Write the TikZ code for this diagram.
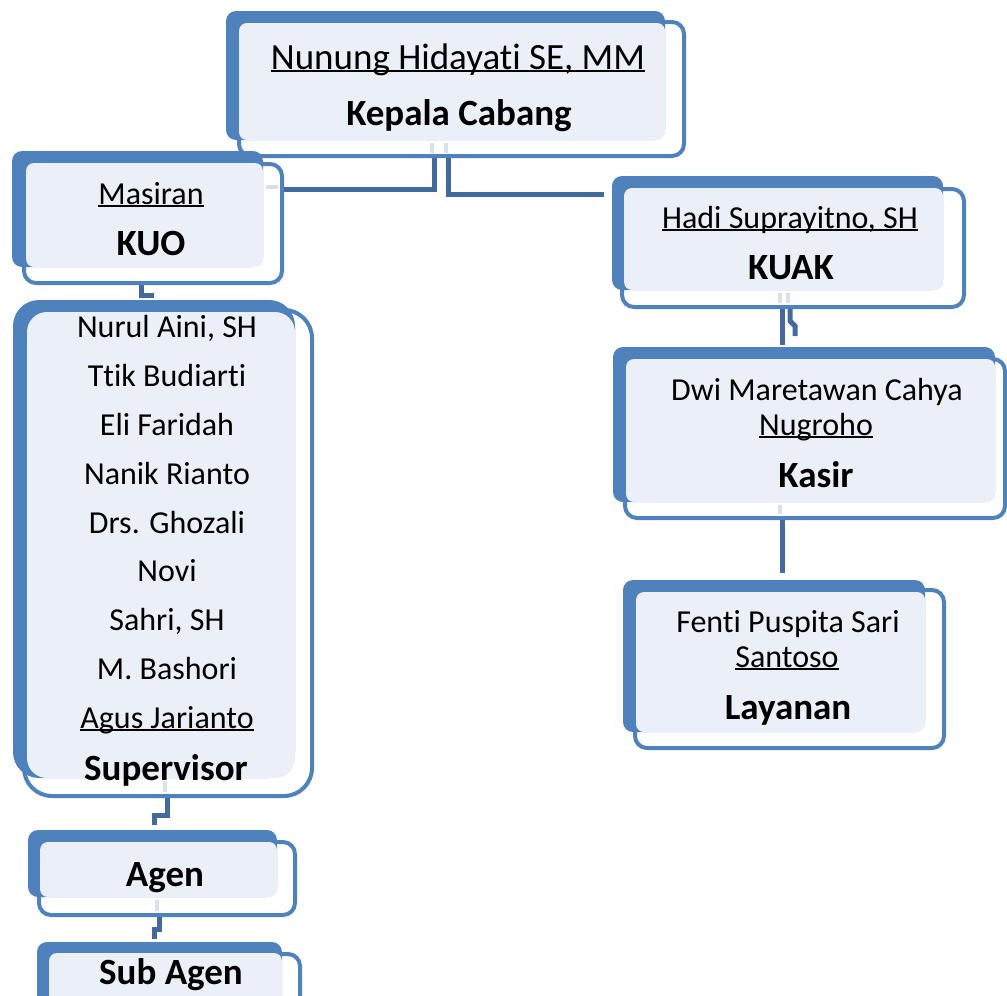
\documentclass[tikz,border=0pt]{standalone}
\usepackage{fontspec}
\setmainfont{Carlito}[RawFeature={-liga,-clig}]
\definecolor{boxblue}{HTML}{4F81BD}
\definecolor{lightfill}{HTML}{EBF0F8}
\definecolor{connblue}{HTML}{44699C}
\definecolor{ghost}{HTML}{D8E1EC}
\newcommand\ulname[1]{\setbox0\hbox{#1}\rlap{\rule[-0.09em]{\wd0}{0.055em}}\box0}
\begin{document}
\begin{tikzpicture}[x=1pt,y=-1pt,
  back/.style={fill=boxblue, rounded corners=10pt},
  inner/.style={fill=lightfill, rounded corners=8pt},
  front/.style={draw=boxblue, line width=4pt, rounded corners=12pt, inner sep=0pt, anchor=north west},
  conn/.style={draw=connblue, line width=5pt},
  ghostline/.style={draw=ghost, line width=4pt},
  nm/.style={font=\fontsize{32}{38}\selectfont, anchor=base, inner sep=0pt},
  bignm/.style={font=\fontsize{37}{44}\selectfont, anchor=base, inner sep=0pt},
  role/.style={font=\fontsize{37}{44}\selectfont\bfseries, anchor=base, inner sep=0pt}]
\useasboundingbox (0,0) rectangle (1007,996);
\clip (0,0) rectangle (1007,996);

% Kepala Cabang
\fill[back] (226,11) rectangle (665,140);
\node[front, minimum width=445pt, minimum height=134pt] (kepF) at (237,20) {};
\fill[inner] (239,23) rectangle (665,140);
\draw[ghostline] (432,143) -- (432,153) (446,143) -- (446,153);
\node[bignm] (kepN) at (458,69) {\ulname{Nunung Hidayati SE, MM}};
\node[role] (kepR) at (459,125) {Kepala Cabang};

% KUO
\fill[back] (12,151) rectangle (263,267);
\node[front, minimum width=258pt, minimum height=119pt] (kuoF) at (22,162) {};
\fill[inner] (26,163) rectangle (263,267);
\draw[ghostline] (266,187) -- (278,187);
\node[nm] (kuoN) at (151,204) {\ulname{Masiran}};
\node[role] (kuoR) at (151,255) {KUO};

% KUAK
\fill[back] (612,176) rectangle (943,290);
\node[front, minimum width=342pt, minimum height=118pt] (kuakF) at (620,187) {};
\fill[inner] (624,188) rectangle (943,290);
\draw[ghostline] (780,293) -- (780,303) (788,293) -- (788,303);
\node[nm] (kuakN) at (790,228) {\ulname{Hadi Suprayitno, SH}};
\node[role] (kuakR) at (791,279) {KUAK};

% Kasir
\fill[back] (613,347) rectangle (995,502);
\node[front, minimum width=380pt, minimum height=159pt] (kasF) at (623,357) {};
\fill[inner] (626,359) rectangle (995,502);
\draw[ghostline] (780,505) -- (780,514);
\node[nm] (kasN1) at (817,400) {Dwi Maretawan Cahya};
\node[nm] (kasN2) at (816,435) {\ulname{Nugroho}};
\node[role] (kasR) at (816,487) {Kasir};

% Layanan
\fill[back] (623,580) rectangle (925,732);
\node[front, minimum width=309pt, minimum height=158pt] (layF) at (633,588) {};
\fill[inner] (636,592) rectangle (925,732);
\node[nm] (layN1) at (788,632) {Fenti Puspita Sari};
\node[nm] (layN2) at (787,667) {\ulname{Santoso}};
\node[role] (layR) at (788,719) {Layanan};

% Supervisor
\fill[back, rounded corners=26pt] (13,300) rectangle (295,778);
\node[front, rounded corners=28pt, minimum width=288pt, minimum height=486pt] (supF) at (22,308) {};
\fill[inner, rounded corners=20pt] (27,312) rectangle (295,778);
\draw[ghostline] (165,781) -- (165,792);
\node[nm] (sup1) at (167,337) {Nurul Aini, SH};
\node[nm] (sup2) at (167,386) {Ttik Budiarti};
\node[nm] (sup3) at (167,435) {Eli Faridah};
\node[nm] (sup4) at (167,484) {Nanik Rianto};
\node[nm] (sup5) at (167,533) {Drs. Ghozali};
\node[nm] (sup6) at (167,581) {Novi};
\node[nm] (sup7) at (167,630) {Sahri, SH};
\node[nm] (sup8) at (167,679) {M. Bashori};
\node[nm] (sup9) at (167,728) {\ulname{Agus Jarianto}};
\node[role] (supR) at (166,780) {Supervisor};

% Agen
\fill[back] (28,830) rectangle (277,897);
\node[front, minimum width=256pt, minimum height=73pt] (agF) at (37,840) {};
\fill[inner] (40,842) rectangle (277,897);
\draw[ghostline] (157,900) -- (157,911);
\node[role] (agR) at (165,886) {Agen};

% Sub Agen
\fill[back] (37,942) rectangle (282,1010);
\node[front, minimum width=251pt, minimum height=70pt] (subF) at (47,952) {};
\fill[inner] (49,953) rectangle (282,1010);
\node[role] (subR) at (171,984) {Sub Agen};

% connectors
\draw[conn] ([xshift=-27.5pt]kepF.south) |- ([yshift=34.5pt]kuoF.east);
\draw[conn] ([xshift=-13.5pt]kepF.south) |- ([xshift=-16pt,yshift=54pt]kuakF.west);
\draw[conn] ([xshift=-12pt]kuoF.south) -- ++(0,10) -- ++(13,0);
\draw[conn] ([xshift=-1pt]supF.south) -- ++(0,17) -- ++(-13,0) -- ++(0,10);
\draw[conn] ([xshift=-8pt]agF.south) -- ++(0,12) -- ++(-5,0) -- ++(0,10);
\draw[conn] ([xshift=-11pt]kuakF.south) -- ++(0,36);
\draw[conn] ([xshift=-3pt]kuakF.south) -- ++(0,12) -- ++(5,5) -- ++(0,10);
\draw[conn] ([xshift=-33pt]kasF.south) -- ([xshift=-7.5pt,yshift=15pt]layF.north);
\end{tikzpicture}
\end{document}
